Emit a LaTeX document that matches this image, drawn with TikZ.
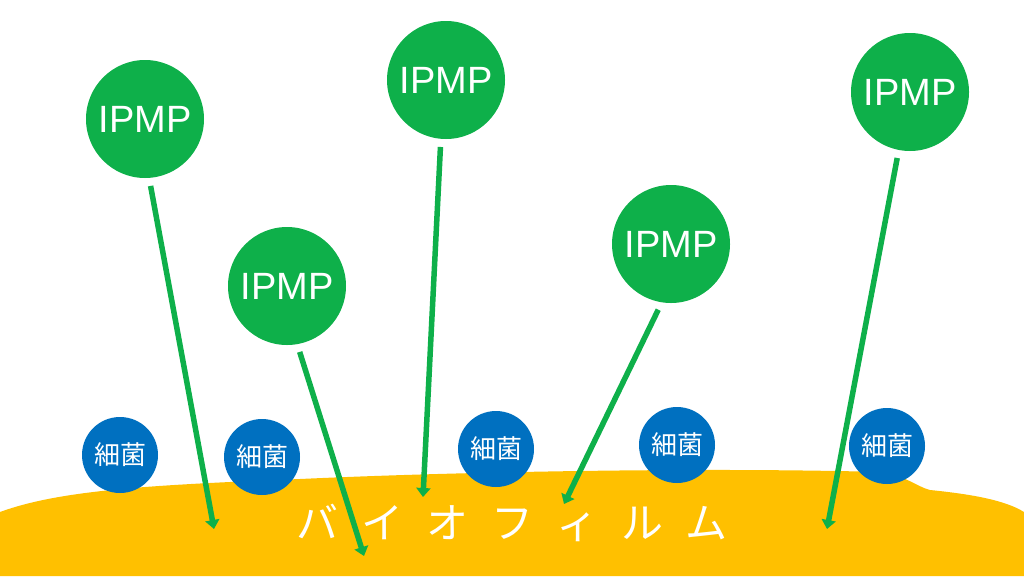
\documentclass[tikz,border=0pt]{standalone}
\usepackage{fontspec}
\setmainfont{Liberation Sans}
\newfontfamily\jpfont{Noto Sans CJK JP}
\newfontfamily\jpwide[LetterSpace=55]{Noto Sans CJK JP}
\usetikzlibrary{arrows.meta}
\definecolor{IPMPGreen}{RGB}{14,176,74}
\definecolor{GermBlue} {RGB}{0,112,192}
\definecolor{FilmGold} {RGB}{255,192,0}

\begin{document}
\begin{tikzpicture}[x=1pt,y=-1pt,
    ipmp/.style={circle,fill=IPMPGreen,text=white,minimum size=118pt,
                 inner sep=0pt,font=\fontsize{38}{38}\selectfont},
    germ/.style={circle,fill=GermBlue,text=white,minimum size=76pt,
                 inner sep=0pt,font=\jpfont\fontsize{26}{26}\selectfont},
    probe/.style={IPMPGreen,line width=5.5pt,shorten <=8pt,
                  -{Triangle[width=14pt,length=9pt]}}]
  \useasboundingbox (0,0) rectangle (1024,576);
  % biofilm
  \fill[FilmGold] (0,576) -- (0,512)
    .. controls (60,490) and (150,485) .. (300,479)
    .. controls (450,472) and (700,467) .. (880,472)
    .. controls (905,475) and (915,486) .. (930,490)
    .. controls (970,494) and (1005,500) .. (1024,512)
    -- (1024,576) -- cycle;
  \node[text=white,font=\jpwide\fontsize{42}{42}\selectfont]
    (film) at (512,523) {バイオフィルム};
  % bacteria
  \foreach \i/\x/\y in {1/120/455,2/262/457,3/496/449,4/677/445,5/887/446}
    \node[germ] (bac\i) at (\x,\y) {細菌};
  % IPMP
  \foreach \i/\x/\y in {1/145/119,2/287/286,3/446/80,4/671/244,5/910/92}
    \node[ipmp] (ipmp\i) at (\x,\y) {IPMP};
  \foreach \i/\a/\x/\y in {1/-86/214/529,2/-80/364/556,3/-95/423/497,
                           4/-99/564/504,5/-101/827/529}{
    \coordinate (tip\i) at (\x,\y);
    \draw[probe] (ipmp\i.\a) -- (tip\i);
  }
\end{tikzpicture}
\end{document}
